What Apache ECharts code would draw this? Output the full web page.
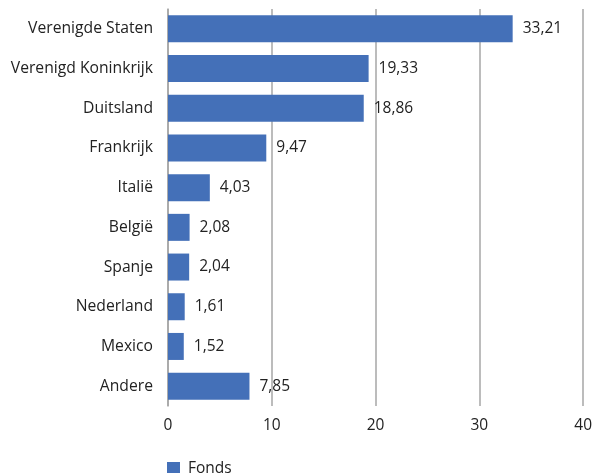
<!DOCTYPE html>
<html><head><meta charset="utf-8">
<script src="https://cdn.jsdelivr.net/npm/echarts@6/dist/echarts.min.js"></script>
<style>html,body{margin:0;padding:0;background:#fff}#c{width:595px;height:473px}</style>
</head><body><div id="c"></div>
<script>
var categories = ["Verenigde Staten","Verenigd Koninkrijk","Duitsland","Frankrijk","Italië","België","Spanje","Nederland","Mexico","Andere"];
var values = [33.21,19.33,18.86,9.47,4.03,2.08,2.04,1.61,1.52,7.85];
var seriesName = "Fonds";
var chart = echarts.init(document.getElementById('c'));
var font = "'Open Sans', 'Noto Sans', sans-serif";
chart.setOption({
  animation:false,
  textStyle:{fontFamily:font},
  grid:{left:168,right:11,top:9,bottom:67,containLabel:false},
  legend:{data:[seriesName],left:162,top:456,itemWidth:13,itemHeight:14,icon:'rect',itemGap:8,
    textStyle:{fontFamily:font,fontSize:15.5,color:'#222',padding:[0,0,0,3]}},
  xAxis:{type:'value',min:0,max:40,interval:10,
    axisLine:{show:false},axisTick:{show:false},
    axisLabel:{fontFamily:font,fontSize:15.5,color:'#222',margin:12},
    splitLine:{lineStyle:{color:'#a6a6a6',width:1.5}}},
  yAxis:{type:'category',data:categories,inverse:true,
    axisLine:{show:true,lineStyle:{color:'#a6a6a6',width:1.5}},axisTick:{show:false},
    axisLabel:{fontFamily:font,fontSize:15.7,color:'#222',margin:15}},
  series:[{name:seriesName,type:'bar',data:values,barCategoryGap:'32%',
    itemStyle:{color:'#4470B8'},
    label:{show:true,position:'right',distance:10,fontFamily:font,fontSize:15.5,color:'#222',
      formatter:function(p){return p.value.toFixed(2).replace('.',',');}}}]
});
</script></body></html>
